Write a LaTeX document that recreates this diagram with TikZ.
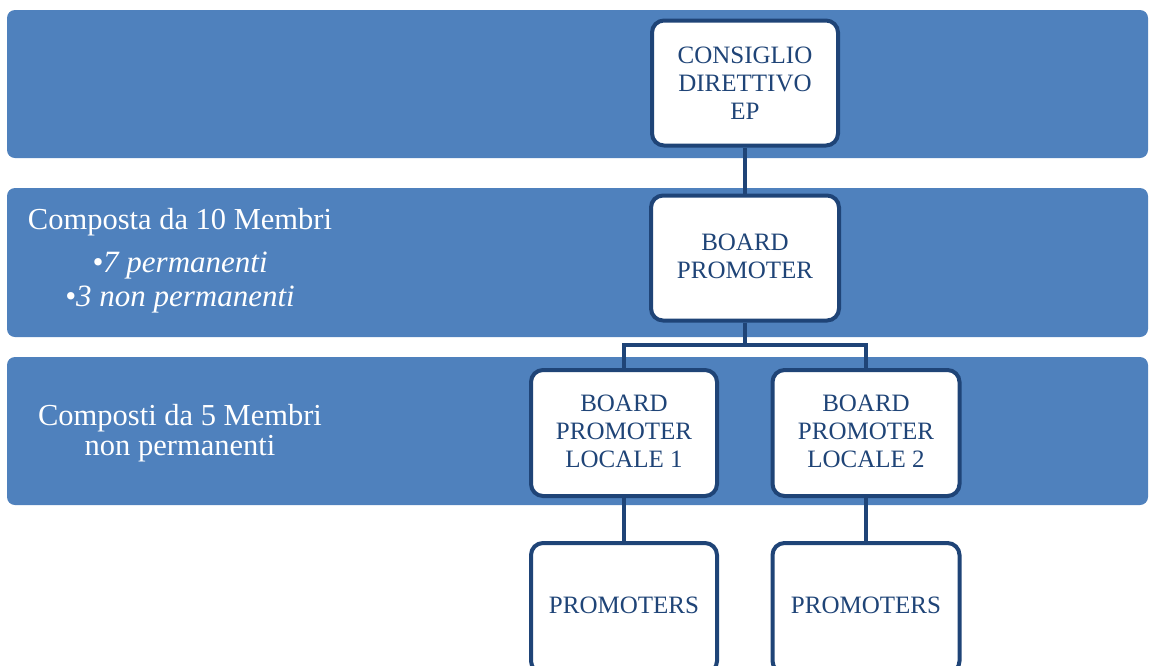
\documentclass[tikz,border=0pt]{standalone}
\usepackage{fontspec}
\setmainfont{Liberation Serif}
\definecolor{band}{HTML}{4F81BD}
\definecolor{dark}{HTML}{1F4477}
\begin{document}
\begin{tikzpicture}[x=1pt,y=-1pt,
  bandbox/.style={fill=band, rounded corners=8pt},
  orgbox/.style={draw=dark, line width=4pt, fill=white, rounded corners=12pt, inner sep=0pt},
  orgtext/.style={text=dark, align=center, font=\fontsize{25}{28}\selectfont},
  lefttext/.style={text=white, anchor=base, inner sep=0pt, font=\fontsize{30.5}{30}\selectfont},
  itemtext/.style={lefttext, font=\fontsize{31}{30}\selectfont\itshape},
  conn/.style={draw=dark, line width=4pt}]
\useasboundingbox (0,0) rectangle (1150,665);
\begin{scope}
\clip (0,0) rectangle (1150,665);
% bands
\path[bandbox] (7,10) rectangle (1148,158);
\path[bandbox] (7,188) rectangle (1148,337);
\path[bandbox] (7,357) rectangle (1148,505);
% junction coordinates
\coordinate (jn) at (745,345);
\coordinate (jl) at (624,345);
\coordinate (jr) at (866,345);
% boxes
\node[orgbox, minimum width=186pt, minimum height=125pt] (cd) at (745,83) {};
\node[orgbox, minimum width=188pt, minimum height=125pt] (bp) at (745,258) {};
\node[orgbox, minimum width=186pt, minimum height=126pt] (l1) at (624,433) {};
\node[orgbox, minimum width=187pt, minimum height=126pt] (l2) at (866,433) {};
\node[orgbox, minimum width=186pt, minimum height=130pt] (p1) at (624,608) {};
\node[orgbox, minimum width=187pt, minimum height=130pt] (p2) at (866,608) {};
% connectors
\path[conn] (cd.south) -- (bp.north);
\path[conn] (bp.south) -- (jn) -- (jl) -- (l1.north);
\path[conn] (jn) -- (jr) -- (l2.north);
\path[conn] (l1.south) -- (p1.north);
\path[conn] (l2.south) -- (p2.north);
% texts
\node[orgtext] (tcd) at (745,83) {CONSIGLIO\\DIRETTIVO\\EP};
\node[orgtext] (tbp) at (745,256) {BOARD\\PROMOTER};
\node[orgtext] (tl1) at (624,431) {BOARD\\PROMOTER\\LOCALE 1};
\node[orgtext] (tl2) at (866,431) {BOARD\\PROMOTER\\LOCALE 2};
\node[orgtext] (tp1) at (624,605) {PROMOTERS};
\node[orgtext] (tp2) at (866,605) {PROMOTERS};
\node[lefttext] (comp) at (180,229) {Composta da 10 Membri};
\node[itemtext] (m7) at (180,272) {\textbullet 7 permanenti};
\node[itemtext] (m3) at (180,306) {\textbullet 3 non permanenti};
\node[lefttext] (c5a) at (180,425) {Composti da 5 Membri};
\node[lefttext] (c5b) at (180,455) {non permanenti};
\end{scope}
\end{tikzpicture}
\end{document}
